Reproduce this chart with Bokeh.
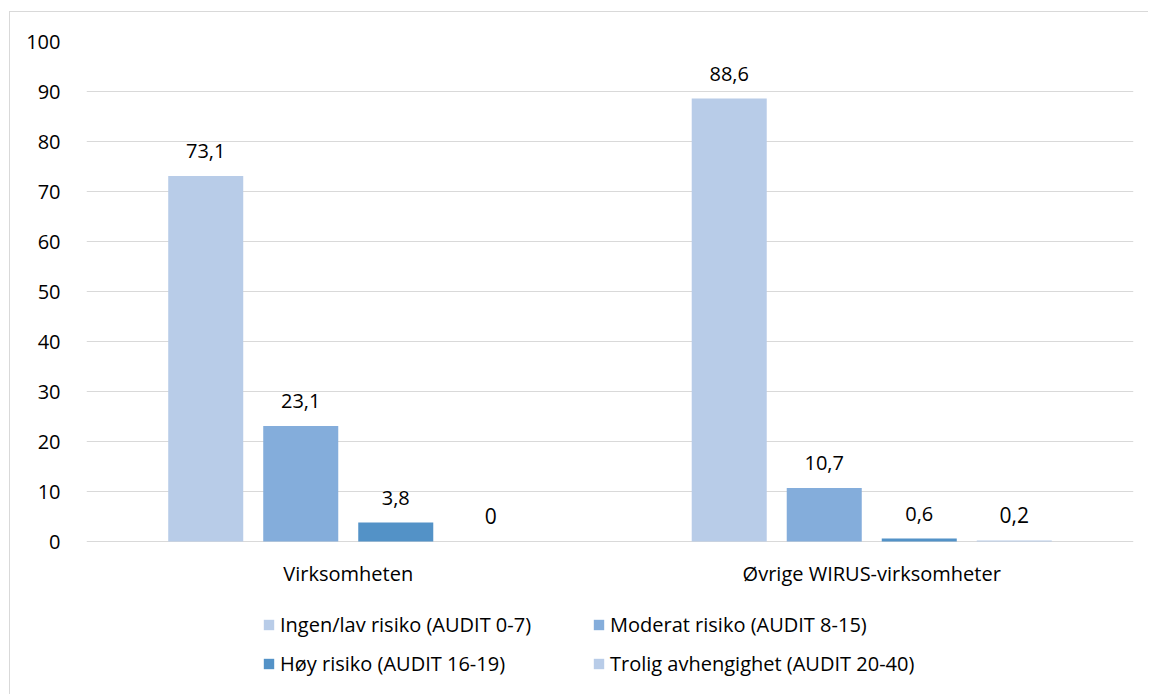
from bokeh.plotting import figure
from bokeh.models import (ColumnDataSource, FactorRange, Legend, LegendItem,
                          FixedTicker, LabelSet)
from bokeh.core.properties import value
from bokeh.transform import dodge
from bokeh.embed import file_html
from bokeh.resources import INLINE

categories = ["Virksomheten", "Øvrige WIRUS-virksomheter"]
series_names = ["Ingen/lav risiko (AUDIT 0-7)", "Moderat risiko (AUDIT 8-15)",
                "Høy risiko (AUDIT 16-19)", "Trolig avhengighet (AUDIT 20-40)"]
ingen_lav = [73.1, 88.6]
moderat = [23.1, 10.7]
hoy = [3.8, 0.6]
trolig = [0.0, 0.2]
y_ticks = [0, 10, 20, 30, 40, 50, 60, 70, 80, 90, 100]

colors = ["#B8CCE8", "#84ADDB", "#5392C7", "#B8CCE8"]
values = [ingen_lav, moderat, hoy, trolig]

FONT = "Open Sans"

def fmt(v):
    return f"{v:g}".replace(".", ",")

p = figure(x_range=FactorRange(factors=categories, range_padding=0),
           y_range=(-30.8, 100), width=1139, height=683,
           output_backend="svg", toolbar_location=None,
           min_border_left=76, min_border_right=16,
           min_border_top=29, min_border_bottom=0)
p.styles = {"margin-left": "9px", "margin-top": "11px",
            "border-left": "1px solid #d9d9d9", "border-top": "1px solid #d9d9d9"}

p.outline_line_color = None
p.background_fill_color = "white"
p.border_fill_color = "white"

pitch = 0.1815
bw = 0.1433
renderers = []
for i, (name, vals, col) in enumerate(zip(series_names, values, colors)):
    src = ColumnDataSource(dict(cat=categories, val=vals,
                                lab=[fmt(v) for v in vals]))
    off = (i - 1.5) * pitch
    r = p.vbar(x=dodge("cat", off, range=p.x_range), top="val", width=bw,
               source=src, fill_color=col, line_color=None)
    renderers.append(r)
    labels = LabelSet(x=dodge("cat", off, range=p.x_range), y="val", text="lab",
                      source=src, text_align="center", text_baseline="alphabetic",
                      y_offset=18, text_font=value(FONT),
                      text_font_size=value("21px" if i == 3 else "20px"),
                      text_color=value("#000000"))
    p.add_layout(labels)

# category labels under the baseline
p.text(x=categories, y=[-6.3, -6.3], text=categories, text_align="center",
       text_baseline="middle", text_font=value(FONT), text_font_size="20px",
       text_color="#000000")

p.ygrid.ticker = FixedTicker(ticks=y_ticks)
p.ygrid.grid_line_color = "#d9d9d9"
p.ygrid.grid_line_width = 1
p.xgrid.grid_line_color = None

p.yaxis.ticker = FixedTicker(ticks=y_ticks)
p.yaxis.axis_line_color = None
p.yaxis.major_tick_line_color = None
p.yaxis.minor_tick_line_color = None
p.yaxis.major_label_standoff = 20
p.yaxis.major_label_text_font = FONT
p.yaxis.major_label_text_font_size = "20px"
p.yaxis.major_label_text_color = "#000000"

p.xaxis.visible = False

# legend filled column by column: order items so rows read as in the reference
order = [0, 2, 1, 3]
legend = Legend(items=[LegendItem(label=series_names[k], renderers=[renderers[k]]) for k in order],
                ncols=2, location=(176, 18),
                glyph_width=13, glyph_height=13, label_standoff=5,
                label_height=20, label_width=300, spacing=12,
                padding=0, margin=0, border_line_color=None,
                background_fill_color=None,
                label_text_font=FONT, label_text_font_size="20px",
                label_text_color="#000000")
p.add_layout(legend, "center")

open("out.html", "w").write(file_html(p, INLINE))
